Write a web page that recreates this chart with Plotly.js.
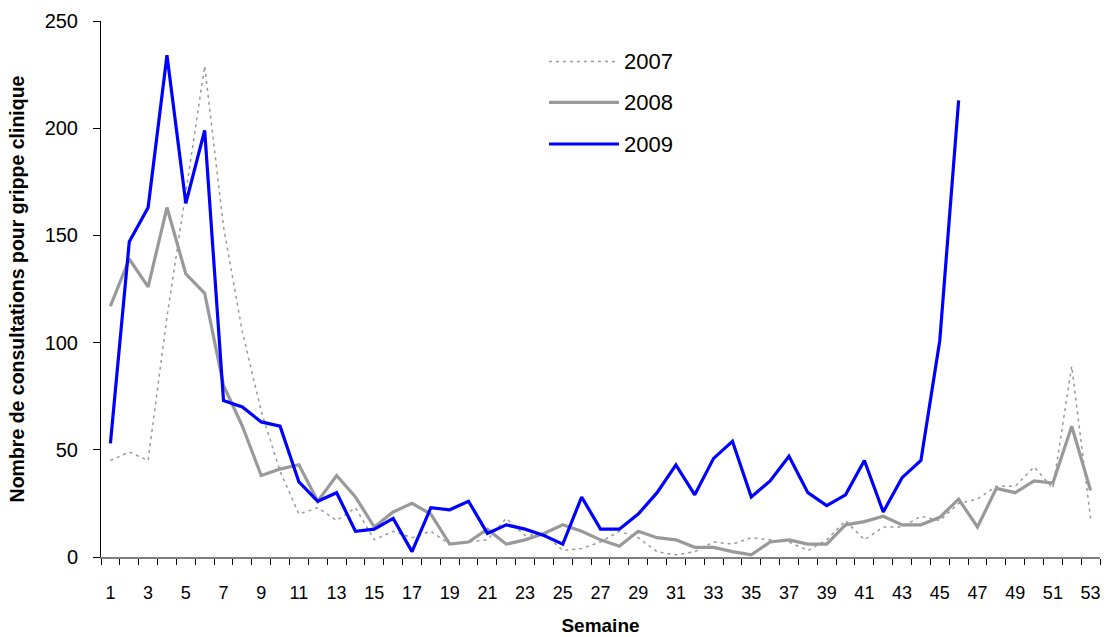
<!DOCTYPE html>
<html>
<head>
<meta charset="utf-8">
<script src="https://cdn.plot.ly/plotly-3.0.1.min.js"></script>
<style>html,body{margin:0;padding:0;background:#fff;}#chart{width:1107px;height:637px;}</style>
</head>
<body>
<div id="chart"></div>
<script>
// Data (weekly counts)
const seriesNames = ["2007", "2008", "2009"];
const values2007 = [45,49,45,112,170,229,154,105,68,40,20,23,17,23,8,12,9,12,6,7,8,18,10,11,3,4,7,12,9,2.5,1,2.5,7,6,9,8,7,3,8,17,8,14,14,19,17,25,27,33,33,42,32,89,18];
const values2008 = [117,139,126,163,132,123,80,61,38,41,43,26,38,28,14,21,25,20,6,7,13,6,8,11,15,12,8,5,12,9,8,4.5,4.5,2.5,1,7,8,6,6,15,16.5,19,15,15,18.5,27,14,32,30,35.5,34.5,61,31];
const values2009 = [53,147,163,234,165,199,73,70,63,61,35,26,30,12,13,18,2.5,23,22,26,11,15,13,10,6,28,13,13,20,30,43,29,46,54,28,35.5,47,30,24,29,45,21,37,45,101,213];
const weekTickLabels = ["1","3","5","7","9","11","13","15","17","19","21","23","25","27","29","31","33","35","37","39","41","43","45","47","49","51","53"];
const yTickValues = [0,50,100,150,200,250];
const xTitle = "Semaine";
const yTitle = "Nombre de consultations pour grippe clinique";

const weeksFor = arr => arr.map((_, i) => i + 1);
const tickValsX = weekTickLabels.map(Number);

const styles = [
  {color: "#999999", width: 1.5, dash: "3px,4px"},
  {color: "#999999", width: 3.2, dash: "solid"},
  {color: "#0000FF", width: 3.2, dash: "solid"}
];
const allValues = [values2007, values2008, values2009];

const traces = allValues.map((vals, k) => ({
  type: "scatter",
  mode: "lines",
  name: seriesNames[k],
  x: weeksFor(vals),
  y: vals,
  line: styles[k],
  showlegend: false,
  hoverinfo: "x+y+name"
}));

// custom legend (long line samples like the original)
const legY = [0.9244, 0.848, 0.7705];
const shapes = seriesNames.map((n, k) => ({
  type: "line", xref: "paper", yref: "paper",
  x0: 0.4484, x1: 0.5185, y0: legY[k], y1: legY[k],
  line: styles[k]
}));
const annotations = seriesNames.map((n, k) => ({
  xref: "paper", yref: "paper", x: 0.5215, y: legY[k],
  xanchor: "left", yanchor: "middle", showarrow: false,
  text: n, font: {family: "Arial, Liberation Sans, sans-serif", size: 22, color: "#000"}
}));

const layout = {
  width: 1107, height: 637,
  margin: {l: 101, r: 7, t: 21, b: 80, pad: 0},
  paper_bgcolor: "#ffffff", plot_bgcolor: "#ffffff",
  font: {family: "Arial, Liberation Sans, sans-serif", color: "#000"},
  xaxis: {
    range: [0.5, 53.5],
    tickmode: "array", tickvals: tickValsX, ticktext: weekTickLabels,
    ticks: "",
    minor: {tick0: 0.5, dtick: 1, ticks: "outside", ticklen: 6, tickwidth: 1, tickcolor: "#000", showgrid: false},
    showline: true, linecolor: "#808080", linewidth: 2,
    showgrid: false, zeroline: false,
    tickfont: {family: "Liberation Sans Narrow, Arial Narrow, Arial, sans-serif", size: 18, color: "#000"},
    ticklabelstandoff: 18,
    title: {text: xTitle, font: {family: "Liberation Sans Narrow, Arial Narrow, Arial, sans-serif", size: 19, color: "#000", weight: "bold"}, standoff: 17},
    automargin: false, fixedrange: true
  },
  yaxis: {
    range: [0, 250],
    tickmode: "array", tickvals: yTickValues,
    ticks: "outside", ticklen: 7, tickwidth: 1, tickcolor: "#000",
    showline: true, linecolor: "#000", linewidth: 1,
    showgrid: false, zeroline: false,
    tickfont: {family: "Arial, Liberation Sans, sans-serif", size: 20, color: "#000"},
    ticklabelstandoff: 11,
    title: {text: yTitle, font: {family: "Arial, Liberation Sans, sans-serif", size: 19.5, color: "#000", weight: "bold"}, standoff: 14},
    automargin: false, fixedrange: true
  },
  shapes: shapes,
  annotations: annotations,
  showlegend: false
};

Plotly.newPlot("chart", traces, layout, {displayModeBar: false, staticPlot: true});
</script>
</body>
</html>
